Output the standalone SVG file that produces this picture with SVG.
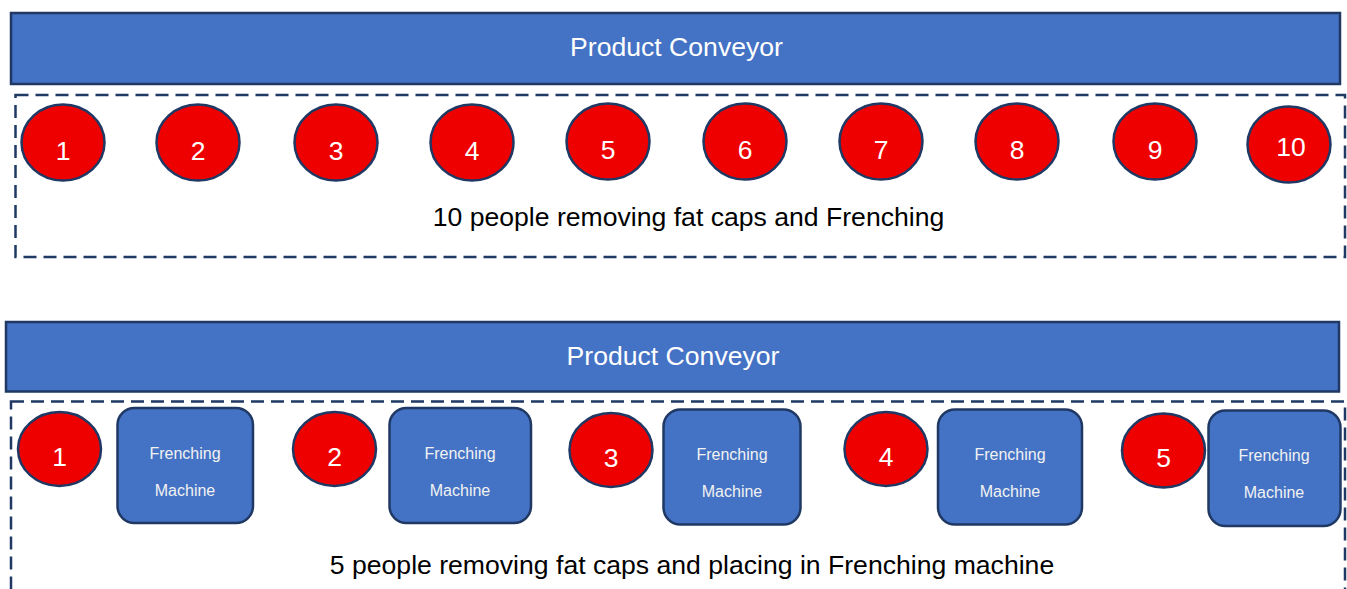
<svg xmlns="http://www.w3.org/2000/svg" width="1347" height="589" viewBox="0 0 1347 589">
  <style>
    .conveyor { fill: #4472C4; stroke: #1F3864; stroke-width: 2.5; }
    .zone { fill: none; stroke: #1F3864; stroke-width: 2.5; stroke-dasharray: 13 7; }
    .worker { fill: #EE0000; stroke: #1F3864; stroke-width: 2.5; }
    .machine { fill: #4472C4; stroke: #1F3864; stroke-width: 2.5; }
    .title { font-family: "Liberation Sans", Arial, sans-serif; font-size: 26.6px; fill: #FFFFFF; text-anchor: middle; }
    .num { font-family: "Liberation Sans", Arial, sans-serif; font-size: 26.5px; fill: #FFFFFF; text-anchor: middle; }
    .mtext { font-family: "Liberation Sans", Arial, sans-serif; font-size: 16px; fill: #F2F2F2; text-anchor: middle; }
    .caption { font-family: "Liberation Sans", Arial, sans-serif; font-size: 26.6px; fill: #000000; text-anchor: middle; }
  </style>
  <rect width="1347" height="589" fill="#FFFFFF"/>

  <!-- Layout 1: manual frenching line -->
  <g id="conveyor-top">
    <rect class="conveyor" x="11" y="13" width="1329" height="71"/>
    <text class="title" x="676.5" y="56">Product Conveyor</text>
  </g>
  <g id="zone-top">
    <rect class="zone" x="15.5" y="95" width="1329.5" height="162"/>
    <text class="caption" x="688.5" y="225.5">10 people removing fat caps and Frenching</text>
  </g>
  <g id="worker-top-1"><ellipse class="worker" cx="63" cy="142.5" rx="41.5" ry="38"/><text class="num" x="63" y="159.5">1</text></g>
  <g id="worker-top-2"><ellipse class="worker" cx="198" cy="142.5" rx="41.5" ry="38"/><text class="num" x="198" y="159.5">2</text></g>
  <g id="worker-top-3"><ellipse class="worker" cx="336" cy="142.5" rx="41.5" ry="38"/><text class="num" x="336" y="159.5">3</text></g>
  <g id="worker-top-4"><ellipse class="worker" cx="472" cy="142.5" rx="41.5" ry="38"/><text class="num" x="472" y="159.5">4</text></g>
  <g id="worker-top-5"><ellipse class="worker" cx="608" cy="141.5" rx="41.5" ry="38"/><text class="num" x="608" y="158.5">5</text></g>
  <g id="worker-top-6"><ellipse class="worker" cx="745" cy="141.5" rx="41.5" ry="38"/><text class="num" x="745" y="158.5">6</text></g>
  <g id="worker-top-7"><ellipse class="worker" cx="881" cy="141.5" rx="41.5" ry="38"/><text class="num" x="881" y="158.5">7</text></g>
  <g id="worker-top-8"><ellipse class="worker" cx="1017" cy="141.5" rx="41.5" ry="38"/><text class="num" x="1017" y="158.5">8</text></g>
  <g id="worker-top-9"><ellipse class="worker" cx="1155" cy="141.5" rx="41.5" ry="38"/><text class="num" x="1155" y="158.5">9</text></g>
  <g id="worker-top-10"><ellipse class="worker" cx="1289" cy="144.5" rx="41.5" ry="38"/><text class="num" x="1291" y="155.5">10</text></g>

  <!-- Layout 2: machine-assisted frenching line -->
  <g id="conveyor-bottom">
    <rect class="conveyor" x="6" y="322" width="1333" height="69.5"/>
    <text class="title" x="673" y="365">Product Conveyor</text>
  </g>
  <g id="zone-bottom">
    <rect class="zone" x="11" y="401.5" width="1334" height="200"/>
    <text class="caption" x="692" y="573.5">5 people removing fat caps and placing in Frenching machine</text>
  </g>

  <g id="worker-bottom-1"><ellipse class="worker" cx="59.5" cy="449" rx="41.5" ry="37"/><text class="num" x="59.5" y="465.5">1</text></g>
  <g id="machine-1">
    <rect class="machine" x="117.5" y="408" width="135.5" height="115" rx="17"/>
    <text class="mtext" x="185" y="459">Frenching</text>
    <text class="mtext" x="185" y="496">Machine</text>
  </g>

  <g id="worker-bottom-2"><ellipse class="worker" cx="334.5" cy="449" rx="41.5" ry="37"/><text class="num" x="334.5" y="465.5">2</text></g>
  <g id="machine-2">
    <rect class="machine" x="389.5" y="408" width="141.5" height="115" rx="17"/>
    <text class="mtext" x="460" y="459">Frenching</text>
    <text class="mtext" x="460" y="496">Machine</text>
  </g>

  <g id="worker-bottom-3"><ellipse class="worker" cx="611" cy="450" rx="41.5" ry="37"/><text class="num" x="611" y="466.5">3</text></g>
  <g id="machine-3">
    <rect class="machine" x="663.5" y="409.5" width="137" height="115" rx="17"/>
    <text class="mtext" x="732" y="460">Frenching</text>
    <text class="mtext" x="732" y="497">Machine</text>
  </g>

  <g id="worker-bottom-4"><ellipse class="worker" cx="886" cy="449" rx="41.5" ry="37"/><text class="num" x="886" y="465.5">4</text></g>
  <g id="machine-4">
    <rect class="machine" x="938" y="409.5" width="144" height="115" rx="17"/>
    <text class="mtext" x="1010" y="460">Frenching</text>
    <text class="mtext" x="1010" y="497">Machine</text>
  </g>

  <g id="worker-bottom-5"><ellipse class="worker" cx="1163.5" cy="450.5" rx="41.5" ry="37"/><text class="num" x="1163.5" y="467">5</text></g>
  <g id="machine-5">
    <rect class="machine" x="1208.5" y="410.5" width="132" height="115.5" rx="17"/>
    <text class="mtext" x="1274" y="461">Frenching</text>
    <text class="mtext" x="1274" y="498">Machine</text>
  </g>

  <!-- no connectors in this layout -->
  <g id="connectors"/>
</svg>
